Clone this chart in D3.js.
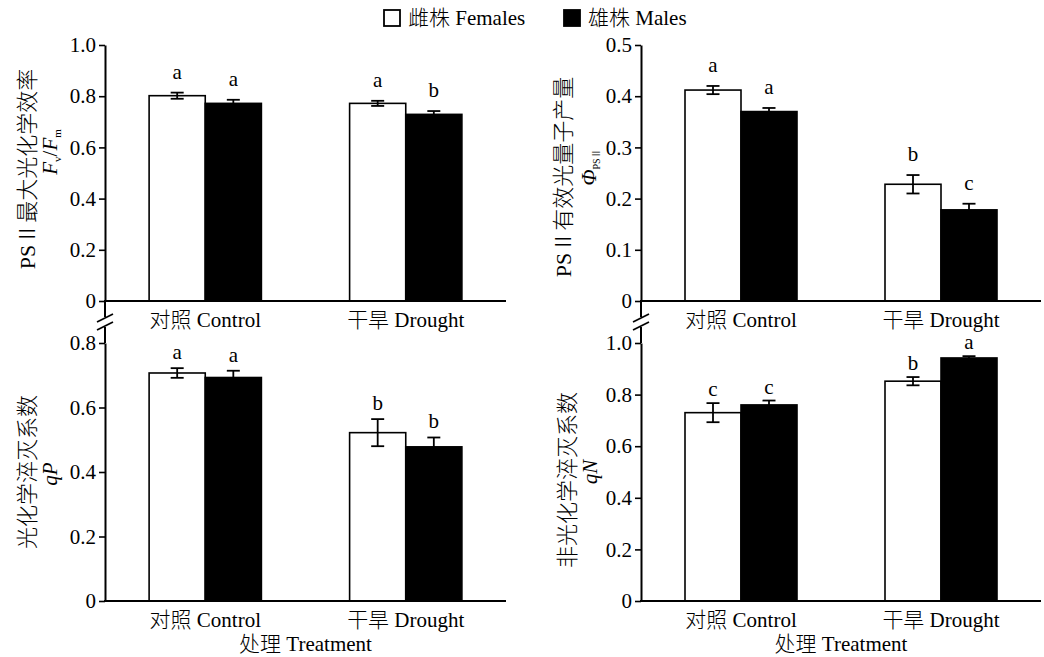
<!DOCTYPE html>
<html>
<head>
<meta charset="utf-8">
<script src="https://cdn.jsdelivr.net/npm/d3@7"></script>
<style>
  body { margin: 0; background: #fff; }
  text { font-family: "Liberation Serif", "Noto Sans CJK SC", serif; font-weight: 300; fill: #000; }
</style>
</head>
<body>
<svg id="chart" width="1044" height="657"></svg>
<script>
// 分组与系列
const groups = ['对照 Control', '干旱 Drought'];
const sexes = ['雌株 Females', '雄株 Males'];

// Fv/Fm
const fvfmFemale = [0.802, 0.772];
const fvfmFemaleSE = [0.012, 0.010];
const fvfmMale = [0.772, 0.729];
const fvfmMaleSE = [0.014, 0.013];
const fvfmFemaleLetters = ['a', 'a'];
const fvfmMaleLetters = ['a', 'b'];

// ΦPSII
const phiFemale = [0.412, 0.228];
const phiFemaleSE = [0.008, 0.018];
const phiMale = [0.370, 0.178];
const phiMaleSE = [0.007, 0.012];
const phiFemaleLetters = ['a', 'b'];
const phiMaleLetters = ['a', 'c'];

// qP
const qpFemale = [0.707, 0.522];
const qpFemaleSE = [0.015, 0.042];
const qpMale = [0.693, 0.478];
const qpMaleSE = [0.021, 0.029];
const qpFemaleLetters = ['a', 'b'];
const qpMaleLetters = ['a', 'b'];

// qN
const qnFemale = [0.730, 0.852];
const qnFemaleSE = [0.037, 0.016];
const qnMale = [0.760, 0.942];
const qnMaleSE = [0.017, 0.007];
const qnFemaleLetters = ['c', 'b'];
const qnMaleLetters = ['c', 'a'];

// 刻度
const ticksFvfm = [0, 0.2, 0.4, 0.6, 0.8, 1.0];
const ticksPhi = [0, 0.1, 0.2, 0.3, 0.4, 0.5];
const ticksQp = [0, 0.2, 0.4, 0.6, 0.8];
const ticksQn = [0, 0.2, 0.4, 0.6, 0.8, 1.0];

const svg = d3.select('#chart');
const fmt = d => d === 0 ? '0' : d3.format('.1f')(d);

const panels = [
    { x0: 105, x1: 506, y0: 45, y1: 301, ticks: ticksFvfm, gap: 14,
      female: fvfmFemale, femaleSE: fvfmFemaleSE, male: fvfmMale, maleSE: fvfmMaleSE,
      fl: fvfmFemaleLetters, ml: fvfmMaleLetters, title: 'fvfm', tx: 27, tx2: 50, ty: 169, ty2: 152 },
    { x0: 641, x1: 1041, y0: 45, y1: 301, ticks: ticksPhi, gap: 14,
      female: phiFemale, femaleSE: phiFemaleSE, male: phiMale, maleSE: phiMaleSE,
      fl: phiFemaleLetters, ml: phiMaleLetters, title: 'phi', tx: 563, tx2: 589, ty: 177, ty2: 167 },
    { x0: 105, x1: 506, y0: 343, y1: 601, ticks: ticksQp, gap: 9,
      female: qpFemale, femaleSE: qpFemaleSE, male: qpMale, maleSE: qpMaleSE,
      fl: qpFemaleLetters, ml: qpMaleLetters, title: 'qp', tx: 27, tx2: 50, ty: 472, ty2: 474, xTitle: true },
    { x0: 641, x1: 1041, y0: 343, y1: 601, ticks: ticksQn, gap: 7,
      female: qnFemale, femaleSE: qnFemaleSE, male: qnMale, maleSE: qnMaleSE,
      fl: qnFemaleLetters, ml: qnMaleLetters, title: 'qn', tx: 567, tx2: 590, ty: 480, ty2: 472, xTitle: true }
];

panels.forEach(p => {
    const g = svg.append('g');
    const ymax = p.ticks[p.ticks.length - 1];
    const y = d3.scaleLinear().domain([0, ymax]).range([p.y1, p.y0]);
    const x = d3.scaleBand().domain(groups).range([p.x0, p.x1]).paddingInner(0.44).paddingOuter(0.22);
    const xs = d3.scaleBand().domain(sexes).range([0, x.bandwidth()]);

    const rows = [];
    groups.forEach((grp, i) => {
        rows.push({ grp, sex: sexes[0], v: p.female[i], se: p.femaleSE[i], lab: p.fl[i] });
        rows.push({ grp, sex: sexes[1], v: p.male[i], se: p.maleSE[i], lab: p.ml[i] });
    });

    // 柱
    g.selectAll('rect.bar').data(rows).enter().append('rect')
        .attr('x', d => x(d.grp) + xs(d.sex))
        .attr('y', d => y(d.v))
        .attr('width', xs.bandwidth())
        .attr('height', d => y(0) - y(d.v))
        .attr('fill', d => d.sex === sexes[0] ? '#fff' : '#000')
        .attr('stroke', '#000').attr('stroke-width', 1.6);

    // 误差线
    rows.forEach(d => {
        const cx = x(d.grp) + xs(d.sex) + xs.bandwidth() / 2;
        const hi = y(d.v + d.se), lo = y(d.v - d.se);
        const ew = 6.5;
        g.append('line').attr('x1', cx).attr('x2', cx).attr('y1', hi).attr('y2', lo)
            .attr('stroke', '#000').attr('stroke-width', 1.8);
        g.append('line').attr('x1', cx - ew).attr('x2', cx + ew).attr('y1', hi).attr('y2', hi)
            .attr('stroke', '#000').attr('stroke-width', 1.8);
        g.append('line').attr('x1', cx - ew).attr('x2', cx + ew).attr('y1', lo).attr('y2', lo)
            .attr('stroke', '#000').attr('stroke-width', 1.8);
        g.append('text').attr('x', cx).attr('y', hi - p.gap)
            .attr('text-anchor', 'middle').style('font-size', '21px')
            .text(d.lab);
    });

    // 轴
    const ya = g.append('g').attr('transform', `translate(${p.x0},0)`)
        .call(d3.axisLeft(y).tickValues(p.ticks).tickFormat(fmt).tickSize(6).tickPadding(3).tickSizeOuter(0));
    ya.select('.domain').attr('stroke-width', 2);
    ya.selectAll('.tick line').attr('stroke-width', 1.6);
    ya.selectAll('.tick text').style('font-size', '21px').style('font-family', '"Liberation Serif", serif');

    const xa = g.append('g').attr('transform', `translate(0,${p.y1})`)
        .call(d3.axisBottom(x).tickSize(0).tickPadding(9).tickSizeOuter(0));
    xa.select('.domain').attr('d', `M${p.x0 - 1},0H${p.x1}`).attr('stroke-width', 2);
    xa.selectAll('.tick text').style('font-size', '21px').attr('dy', '0.8em');

    if (p.xTitle) {
        g.append('text').attr('x', (p.x0 + p.x1) / 2).attr('y', p.y1 + 50)
            .attr('text-anchor', 'middle').style('font-size', '21px').text('处理 Treatment');
    } else {
        // 断轴
        const ax = p.x0;
        g.append('line').attr('x1', ax).attr('x2', ax).attr('y1', p.y1).attr('y2', p.y1 + 16)
            .attr('stroke', '#000').attr('stroke-width', 2);
        g.append('line').attr('x1', ax).attr('x2', ax).attr('y1', p.y1 + 26).attr('y2', p.y1 + 42)
            .attr('stroke', '#000').attr('stroke-width', 2);
        [p.y1 + 17, p.y1 + 25].forEach(cy => {
            g.append('line').attr('x1', ax - 8).attr('y1', cy + 4).attr('x2', ax + 8).attr('y2', cy - 4)
                .attr('stroke', '#000').attr('stroke-width', 1.8);
        });
    }

    // Y 轴标题
    const t1 = g.append('text').attr('transform', `translate(${p.tx},${p.ty}) rotate(-90)`)
        .attr('text-anchor', 'middle').attr('dy', '0.35em').style('font-size', '22px');
    const t2 = g.append('text').attr('transform', `translate(${p.tx2},${p.ty2}) rotate(-90)`)
        .attr('text-anchor', 'middle').attr('dy', '0.35em').style('font-size', '21px');
    if (p.title === 'fvfm') {
        t1.text('PSⅡ最大光化学效率');
        t2.append('tspan').style('font-style', 'italic').text('F');
        t2.append('tspan').attr('dy', 4).style('font-size', '11px').text('v');
        t2.append('tspan').attr('dy', -4).text('/');
        t2.append('tspan').style('font-style', 'italic').text('F');
        t2.append('tspan').attr('dy', 4).style('font-size', '11px').text('m');
    } else if (p.title === 'phi') {
        t1.text('PSⅡ有效光量子产量');
        t2.append('tspan').style('font-style', 'italic').text('Φ');
        t2.append('tspan').attr('dy', 4).style('font-size', '10px').text('PSⅡ');
    } else if (p.title === 'qp') {
        t1.text('光化学淬灭系数');
        t2.style('font-style', 'italic').text('qP');
    } else {
        t1.text('非光化学淬灭系数');
        t2.style('font-style', 'italic').text('qN');
    }
});

// 图例
const legend = svg.append('g').attr('transform', 'translate(383,9)');
const lx = d3.scalePoint().domain(sexes).range([0, 180]);
sexes.forEach((s, i) => {
    const lg = legend.append('g').attr('transform', `translate(${lx(s)},0)`);
    lg.append('rect').attr('x', 1).attr('y', 1).attr('width', 16).attr('height', 16)
        .attr('fill', i === 0 ? '#fff' : '#000').attr('stroke', '#000').attr('stroke-width', 1.8);
    lg.append('text').attr('x', 25).attr('y', 9).attr('dy', '0.35em')
        .style('font-size', '21px').text(s);
});
</script>
</body>
</html>
